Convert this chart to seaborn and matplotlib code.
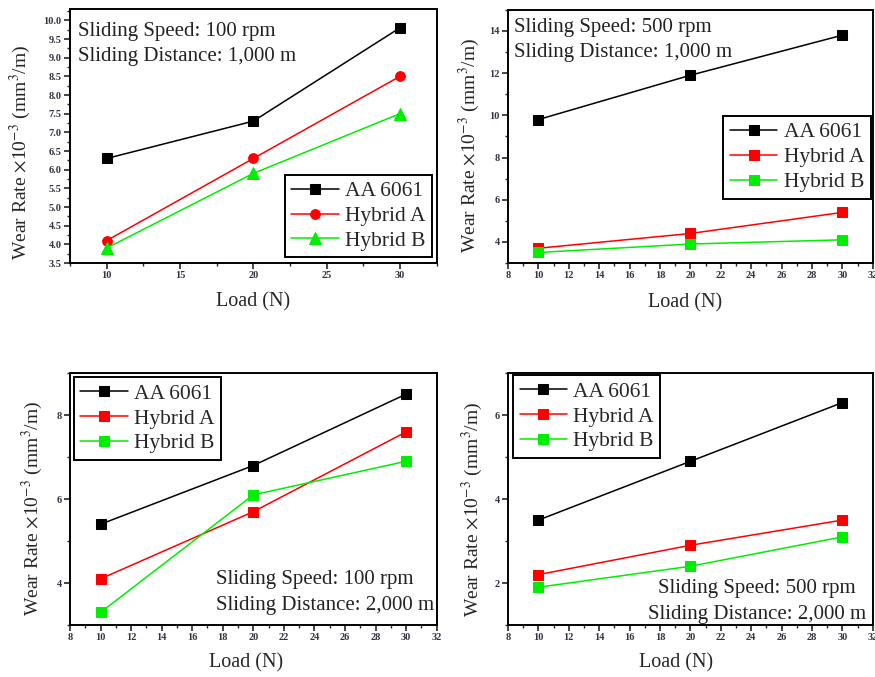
import matplotlib
matplotlib.use("Agg")
import matplotlib.pyplot as plt
import seaborn as sns
import numpy as np
from matplotlib.ticker import MultipleLocator, FormatStrFormatter

sns.set_theme(style="ticks")
plt.rcParams['font.family'] = ['Liberation Serif', 'DejaVu Serif']
plt.rcParams['mathtext.fontset'] = 'stix'

loads = [10, 20, 30]
series_names = ["AA 6061", "Hybrid A", "Hybrid B"]

# Panel 1: 100 rpm, 1,000 m
p1_aa = [6.3, 7.3, 9.8]
p1_a = [4.1, 6.3, 8.5]
p1_b = [3.9, 5.9, 7.5]
# Panel 2: 500 rpm, 1,000 m
p2_aa = [9.8, 11.9, 13.8]
p2_a = [3.7, 4.4, 5.4]
p2_b = [3.5, 3.9, 4.1]
# Panel 3: 100 rpm, 2,000 m
p3_aa = [5.4, 6.8, 8.5]
p3_a = [4.1, 5.7, 7.6]
p3_b = [3.3, 6.1, 6.9]
# Panel 4: 500 rpm, 2,000 m
p4_aa = [3.5, 4.9, 6.3]
p4_a = [2.2, 2.9, 3.5]
p4_b = [1.9, 2.4, 3.1]

colors = ["#000000", "#ff0000", "#00ee00"]

fig = plt.figure(figsize=(8.75, 6.77), dpi=100)

panels = [
    dict(pos=[0.080, 0.6115, 0.419, 0.375], data=[p1_aa, p1_a, p1_b], markers=["s", "o", "^"],
         xlim=(7.5, 32.5), xmaj=5, xmin=2.5, ylim=(3.5, 10.3), ymaj=0.5, ymin=0.25, yfmt="%.1f",
         texts=[("Sliding Speed: 100 rpm", 0.022, 0.913), ("Sliding Distance: 1,000 m", 0.022, 0.815)],
         leg=dict(loc="lower right", bbox_to_anchor=(0.988, 0.022)),
         ylab=(-0.101, 0.437), xlab=(0.5, -0.114)),
    dict(pos=[0.5806, 0.6115, 0.417, 0.374], data=[p2_aa, p2_a, p2_b], markers=["s", "s", "s"],
         xlim=(8, 32), xmaj=2, xmin=1, ylim=(3, 15), ymaj=2, ymin=1, yfmt="%d",
         texts=[("Sliding Speed: 500 rpm", 0.016, 0.929), ("Sliding Distance: 1,000 m", 0.016, 0.83)],
         leg=dict(loc="upper right", bbox_to_anchor=(0.994, 0.581)),
         ylab=(-0.071, 0.466), xlab=(0.485, -0.119)),
    dict(pos=[0.080, 0.0768, 0.419, 0.372], data=[p3_aa, p3_a, p3_b], markers=["s", "s", "s"],
         xlim=(8, 32), xmaj=2, xmin=1, ylim=(3, 9), ymaj=2, ymin=1, yfmt="%d",
         texts=[("Sliding Speed: 100 rpm", 0.398, 0.179), ("Sliding Distance: 2,000 m", 0.398, 0.079)],
         leg=dict(loc="upper left", bbox_to_anchor=(0.011, 0.984)),
         ylab=(-0.068, 0.464), xlab=(0.48, -0.111)),
    dict(pos=[0.5806, 0.0768, 0.417, 0.372], data=[p4_aa, p4_a, p4_b], markers=["s", "s", "s"],
         xlim=(8, 32), xmaj=2, xmin=1, ylim=(1, 7), ymaj=2, ymin=1, yfmt="%d",
         texts=[("Sliding Speed: 500 rpm", 0.411, 0.143), ("Sliding Distance: 2,000 m", 0.384, 0.04)],
         leg=dict(loc="upper left", bbox_to_anchor=(0.014, 0.992)),
         ylab=(-0.063, 0.46), xlab=(0.46, -0.111)),
]

for p in panels:
    ax = fig.add_axes(p["pos"])
    for name, vals, col, mk in zip(series_names, p["data"], colors, p["markers"]):
        sns.lineplot(x=loads, y=vals, ax=ax, color=col, marker=mk, markersize=7 if mk != "^" else 8,
                     markeredgecolor=col, linewidth=1.1, label=name)
    ax.set_xlim(*p["xlim"])
    ax.set_ylim(*p["ylim"])
    ax.xaxis.set_major_locator(MultipleLocator(p["xmaj"]))
    ax.xaxis.set_minor_locator(MultipleLocator(p["xmin"]))
    ax.yaxis.set_major_locator(MultipleLocator(p["ymaj"]))
    ax.yaxis.set_minor_locator(MultipleLocator(p["ymin"]))
    ax.yaxis.set_major_formatter(FormatStrFormatter(p["yfmt"]))
    ax.tick_params(which="major", direction="out", length=4, width=1.2, labelsize=7.5, pad=2)
    ax.tick_params(which="minor", direction="out", length=2.5, width=1.0)
    for lab in ax.get_xticklabels() + ax.get_yticklabels():
        lab.set_fontweight("bold")
        lab.set_color("#333344")
    for s in ax.spines.values():
        s.set_visible(True)
        s.set_linewidth(1.4)
        s.set_color("black")
    ax.set_xlabel("Load (N)", fontsize=14.5)
    ax.set_ylabel(r"Wear Rate $\times$10$^{-3}$ (mm$^{3}$/m)", fontsize=14)
    ax.yaxis.set_label_coords(*p["ylab"])
    ax.xaxis.set_label_coords(*p["xlab"])
    ax.xaxis.label.set_verticalalignment("top")
    for t, x, y in p["texts"]:
        ax.text(x, y, t, transform=ax.transAxes, fontsize=15, ha="left", va="center", color="#222222")
    leg = ax.legend(fontsize=15.5, frameon=True, fancybox=False, edgecolor="black", framealpha=1,
                    handlelength=2.2, handletextpad=0.3, labelspacing=0.22, borderpad=0.3,
                    borderaxespad=0, **p["leg"])
    leg.get_frame().set_linewidth(1.4)

fig.savefig("out.png", dpi=100)
